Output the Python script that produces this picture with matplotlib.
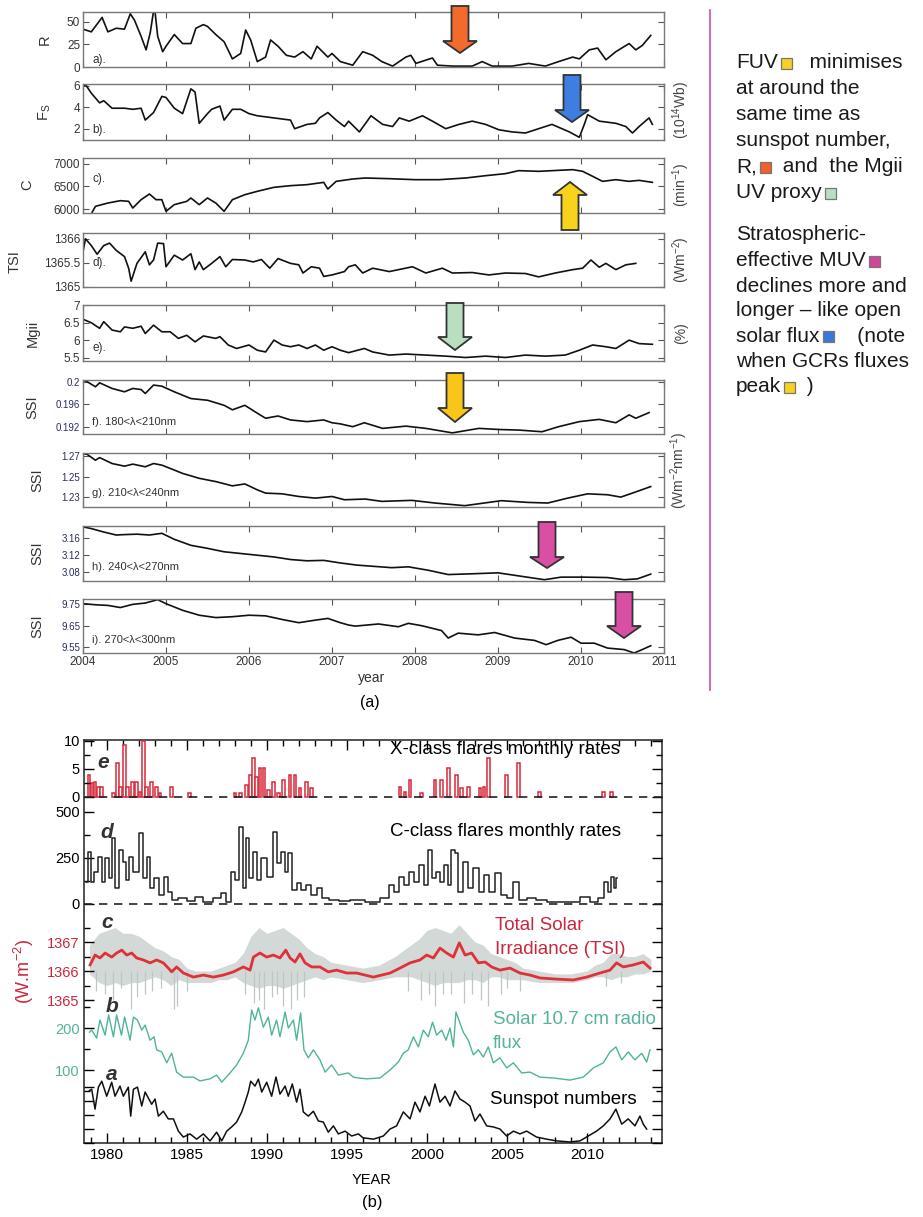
import numpy as np
import matplotlib.pyplot as plt
from matplotlib.patches import Polygon, Rectangle

plt.rcParams['font.family'] = ['Liberation Sans', 'DejaVu Sans']
plt.rcParams['mathtext.fontset'] = 'custom'
plt.rcParams['mathtext.rm'] = 'Liberation Sans'
plt.rcParams['mathtext.it'] = 'Liberation Sans:italic'

# ---------------- (a) 2004-2011 panels: (year, value)
r_data = [(2004.0, 42), (2004.1, 39), (2004.23, 55), (2004.3, 39), (2004.4, 43), (2004.5, 42), (2004.57, 59),
          (2004.62, 52), (2004.7, 34), (2004.76, 19), (2004.81, 38), (2004.86, 68), (2004.9, 34), (2004.96, 17),
          (2005.0, 23), (2005.1, 36), (2005.2, 26), (2005.3, 26), (2005.36, 43), (2005.45, 47), (2005.5, 45),
          (2005.6, 36), (2005.7, 28), (2005.8, 9), (2005.9, 15), (2005.96, 41), (2006.02, 30), (2006.1, 6),
          (2006.2, 11), (2006.26, 30), (2006.35, 23), (2006.45, 13), (2006.55, 11), (2006.65, 17), (2006.75, 9),
          (2006.82, 23), (2006.95, 11), (2007.0, 15), (2007.1, 6), (2007.25, 2), (2007.37, 17), (2007.49, 13),
          (2007.6, 6), (2007.73, 1), (2007.89, 11), (2007.95, 13), (2008.01, 4), (2008.21, 10), (2008.27, 2),
          (2008.45, 1), (2008.69, 1), (2008.81, 6), (2008.93, 1), (2009.17, 1), (2009.37, 4), (2009.57, 1),
          (2009.73, 6), (2009.9, 11), (2009.98, 9), (2010.1, 19), (2010.2, 21), (2010.3, 8), (2010.42, 17),
          (2010.58, 26), (2010.66, 19), (2010.74, 24), (2010.84, 35)]
fs_data = [(2004.0, 5.95), (2004.03, 6.1), (2004.1, 5.3), (2004.2, 4.4), (2004.25, 4.6), (2004.35, 3.9),
           (2004.5, 3.9), (2004.6, 3.8), (2004.7, 3.9), (2004.75, 2.8), (2004.85, 3.5), (2004.95, 5.0),
           (2005.0, 4.9), (2005.1, 3.9), (2005.2, 3.4), (2005.3, 5.7), (2005.35, 5.4), (2005.4, 2.5),
           (2005.5, 3.4), (2005.55, 3.8), (2005.65, 4.1), (2005.7, 2.8), (2005.8, 3.8), (2005.9, 3.8),
           (2006.0, 3.4), (2006.1, 3.2), (2006.3, 3.0), (2006.5, 2.8), (2006.55, 2.0), (2006.7, 2.4),
           (2006.8, 2.5), (2006.85, 3.0), (2006.95, 3.5), (2007.05, 2.8), (2007.15, 2.2), (2007.2, 2.7),
           (2007.33, 1.7), (2007.47, 3.2), (2007.61, 2.4), (2007.73, 2.2), (2007.81, 3.0), (2007.93, 2.7),
           (2008.09, 3.2), (2008.21, 2.7), (2008.37, 2.0), (2008.53, 2.4), (2008.69, 2.7), (2008.85, 2.4),
           (2009.01, 1.9), (2009.17, 1.7), (2009.33, 1.6), (2009.49, 2.0), (2009.65, 2.4), (2009.86, 1.7),
           (2009.98, 1.2), (2010.04, 2.4), (2010.08, 3.3), (2010.22, 2.7), (2010.42, 2.5), (2010.54, 2.2),
           (2010.62, 1.6), (2010.7, 2.2), (2010.82, 3.0), (2010.86, 2.4)]
c_data = [(2004.11, 5930), (2004.15, 6059), (2004.3, 6132), (2004.45, 6184), (2004.55, 6169), (2004.6, 6022),
          (2004.7, 6206), (2004.8, 6331), (2004.88, 6206), (2004.95, 6206), (2005.0, 5949), (2005.1, 6096),
          (2005.25, 6169), (2005.3, 6243), (2005.4, 6096), (2005.5, 6243), (2005.6, 6132), (2005.7, 5949),
          (2005.8, 6206), (2005.95, 6316), (2006.1, 6390), (2006.3, 6478), (2006.5, 6515), (2006.7, 6537),
          (2006.9, 6588), (2006.95, 6441), (2007.05, 6610), (2007.25, 6662), (2007.4, 6684), (2007.69, 6669),
          (2008.0, 6647), (2008.29, 6647), (2008.61, 6684), (2008.85, 6735), (2009.09, 6780), (2009.25, 6846),
          (2009.49, 6831), (2009.73, 6853), (2009.9, 6868), (2010.02, 6831), (2010.14, 6721), (2010.26, 6610),
          (2010.42, 6647), (2010.58, 6610), (2010.7, 6632), (2010.86, 6588)]
tsi_a_data = [(2004.0, 1365.73), (2004.03, 1366.0), (2004.1, 1365.86), (2004.17, 1365.68), (2004.25, 1365.86),
              (2004.32, 1365.91), (2004.4, 1365.76), (2004.5, 1365.63), (2004.55, 1365.39), (2004.58, 1365.12),
              (2004.65, 1365.49), (2004.75, 1365.73), (2004.8, 1365.46), (2004.85, 1365.56), (2004.9, 1365.91),
              (2004.97, 1365.9), (2005.0, 1365.42), (2005.1, 1365.66), (2005.2, 1365.56), (2005.3, 1365.69),
              (2005.35, 1365.36), (2005.4, 1365.52), (2005.45, 1365.36), (2005.55, 1365.49), (2005.65, 1365.63),
              (2005.72, 1365.42), (2005.8, 1365.57), (2005.95, 1365.56), (2006.05, 1365.52), (2006.15, 1365.57),
              (2006.25, 1365.39), (2006.35, 1365.59), (2006.5, 1365.49), (2006.6, 1365.46), (2006.65, 1365.29),
              (2006.75, 1365.42), (2006.85, 1365.39), (2006.9, 1365.22), (2007.0, 1365.25), (2007.15, 1365.32),
              (2007.2, 1365.42), (2007.28, 1365.46), (2007.37, 1365.29), (2007.49, 1365.39), (2007.69, 1365.32),
              (2007.97, 1365.42), (2008.13, 1365.29), (2008.33, 1365.39), (2008.45, 1365.29), (2008.69, 1365.3),
              (2008.89, 1365.25), (2009.09, 1365.29), (2009.33, 1365.28), (2009.49, 1365.21), (2009.69, 1365.29),
              (2009.9, 1365.36), (2010.02, 1365.39), (2010.12, 1365.56), (2010.22, 1365.41), (2010.3, 1365.49),
              (2010.42, 1365.36), (2010.54, 1365.46), (2010.66, 1365.49)]
mg_data = [(2004.0, 6.6), (2004.1, 6.5), (2004.2, 6.34), (2004.25, 6.53), (2004.35, 6.29), (2004.45, 6.24),
           (2004.5, 6.38), (2004.6, 6.34), (2004.7, 6.4), (2004.75, 6.19), (2004.85, 6.43), (2004.95, 6.24),
           (2005.05, 6.24), (2005.15, 6.05), (2005.25, 6.14), (2005.35, 5.95), (2005.45, 6.12), (2005.6, 6.05),
           (2005.65, 6.1), (2005.75, 5.86), (2005.85, 5.76), (2006.0, 5.86), (2006.1, 5.71), (2006.2, 5.66),
           (2006.3, 6.0), (2006.4, 5.86), (2006.5, 5.81), (2006.6, 5.86), (2006.7, 5.76), (2006.8, 5.86),
           (2006.9, 5.71), (2007.0, 5.81), (2007.1, 5.71), (2007.2, 5.64), (2007.39, 5.76), (2007.49, 5.66),
           (2007.69, 5.57), (2007.89, 5.6), (2008.13, 5.57), (2008.37, 5.54), (2008.61, 5.5), (2008.85, 5.54),
           (2009.09, 5.5), (2009.33, 5.57), (2009.57, 5.54), (2009.81, 5.57), (2009.98, 5.71), (2010.14, 5.86),
           (2010.3, 5.81), (2010.42, 5.76), (2010.58, 6.0), (2010.7, 5.9), (2010.86, 5.88)]
ssi_f_data = [(2004.0, 0.2003), (2004.05, 0.2), (2004.15, 0.1991), (2004.2, 0.1998), (2004.35, 0.1988),
              (2004.5, 0.1982), (2004.6, 0.1988), (2004.7, 0.1986), (2004.75, 0.1979), (2004.85, 0.1994),
              (2004.95, 0.1992), (2005.1, 0.1982), (2005.3, 0.197), (2005.5, 0.1967), (2005.7, 0.1958),
              (2005.8, 0.195), (2005.95, 0.1958), (2006.1, 0.1944), (2006.2, 0.1935), (2006.35, 0.1939),
              (2006.5, 0.1932), (2006.7, 0.1929), (2006.9, 0.1932), (2007.0, 0.1927), (2007.1, 0.1925),
              (2007.25, 0.192), (2007.39, 0.1927), (2007.61, 0.1917), (2007.89, 0.1921), (2008.13, 0.1917),
              (2008.45, 0.1909), (2008.77, 0.1917), (2009.01, 0.1915), (2009.25, 0.1914), (2009.53, 0.1911),
              (2009.73, 0.192), (2009.98, 0.1929), (2010.22, 0.1933), (2010.42, 0.1927), (2010.58, 0.1941),
              (2010.66, 0.1935), (2010.82, 0.1945)]
ssi_g_data = [(2004.0, 1.2726), (2004.05, 1.2719), (2004.15, 1.2661), (2004.2, 1.2687), (2004.35, 1.2629),
              (2004.5, 1.2603), (2004.6, 1.2623), (2004.75, 1.2597), (2004.85, 1.2629), (2004.95, 1.2613),
              (2005.1, 1.2565), (2005.2, 1.2532), (2005.4, 1.2484), (2005.6, 1.2452), (2005.8, 1.241),
              (2005.95, 1.2429), (2006.1, 1.2371), (2006.2, 1.2339), (2006.4, 1.2332), (2006.6, 1.2306),
              (2006.8, 1.229), (2007.0, 1.2306), (2007.15, 1.2274), (2007.4, 1.2281), (2007.6, 1.2258),
              (2007.96, 1.2268), (2008.24, 1.2242), (2008.6, 1.2216), (2009.04, 1.2265), (2009.36, 1.2248),
              (2009.6, 1.2242), (2009.84, 1.229), (2010.08, 1.2332), (2010.32, 1.2323), (2010.48, 1.23),
              (2010.64, 1.2345), (2010.84, 1.2403)]
ssi_h_data = [(2004.0, 3.186), (2004.1, 3.182), (2004.25, 3.174), (2004.4, 3.167), (2004.5, 3.168),
              (2004.65, 3.169), (2004.8, 3.167), (2004.95, 3.171), (2005.1, 3.157), (2005.3, 3.143),
              (2005.5, 3.136), (2005.7, 3.128), (2005.9, 3.124), (2006.1, 3.12), (2006.3, 3.116),
              (2006.5, 3.11), (2006.7, 3.107), (2006.9, 3.108), (2007.1, 3.102), (2007.3, 3.097),
              (2007.72, 3.091), (2007.92, 3.093), (2008.16, 3.085), (2008.4, 3.075), (2008.72, 3.077),
              (2009.0, 3.079), (2009.28, 3.071), (2009.56, 3.063), (2009.76, 3.069), (2010.04, 3.069),
              (2010.32, 3.068), (2010.52, 3.063), (2010.68, 3.065), (2010.84, 3.076)]
ssi_i_data = [(2004.0, 9.753), (2004.15, 9.748), (2004.3, 9.745), (2004.45, 9.735), (2004.6, 9.75),
              (2004.75, 9.756), (2004.9, 9.772), (2005.0, 9.753), (2005.2, 9.722), (2005.4, 9.699),
              (2005.6, 9.688), (2005.8, 9.692), (2006.0, 9.699), (2006.2, 9.696), (2006.4, 9.679),
              (2006.6, 9.664), (2006.8, 9.676), (2006.95, 9.684), (2007.1, 9.664), (2007.2, 9.653),
              (2007.28, 9.648), (2007.56, 9.658), (2007.8, 9.645), (2007.92, 9.661), (2008.08, 9.65),
              (2008.32, 9.627), (2008.4, 9.592), (2008.52, 9.615), (2008.76, 9.607), (2008.96, 9.618),
              (2009.2, 9.592), (2009.44, 9.581), (2009.58, 9.561), (2009.72, 9.581), (2009.88, 9.596),
              (2010.0, 9.568), (2010.16, 9.568), (2010.32, 9.545), (2010.52, 9.538), (2010.64, 9.522),
              (2010.72, 9.535), (2010.84, 9.556)]

top_years = [2004, 2005, 2006, 2007, 2008, 2009, 2010, 2011]

# ---------------- (b) 1978-2014 panel
ssn_data = [(1978.9, 150), (1979.04, 154), (1979.25, 97), (1979.46, 160), (1979.67, 177), (1979.98, 134),
            (1980.29, 174), (1980.5, 134), (1980.81, 163), (1981.02, 134), (1981.33, 160), (1981.48, 77),
            (1981.65, 154), (1981.9, 160), (1982.17, 106), (1982.38, 146), (1982.79, 111), (1983.0, 126),
            (1983.21, 77), (1983.52, 91), (1983.83, 69), (1984.15, 69), (1984.46, 34), (1984.77, 17),
            (1985.19, 26), (1985.6, 11), (1986.02, 26), (1986.44, 6), (1986.85, 31), (1987.17, 6),
            (1987.48, 34), (1987.79, 46), (1988.1, 60), (1988.42, 89), (1988.63, 117), (1988.83, 146),
            (1988.98, 177), (1989.25, 163), (1989.46, 183), (1989.67, 146), (1989.98, 174), (1990.29, 134),
            (1990.56, 189), (1990.81, 140), (1991.13, 163), (1991.33, 134), (1991.58, 169), (1991.85, 117),
            (1992.06, 154), (1992.27, 89), (1992.58, 77), (1992.9, 91), (1993.21, 63), (1993.52, 60),
            (1993.83, 31), (1994.15, 49), (1994.46, 26), (1994.88, 34), (1995.29, 20), (1995.71, 26),
            (1996.0, 15), (1996.65, 11), (1997.27, 20), (1997.69, 40), (1998.1, 49), (1998.52, 89),
            (1998.94, 69), (1999.25, 117), (1999.56, 89), (1999.88, 134), (2000.15, 106), (2000.5, 169),
            (2000.81, 117), (2001.13, 134), (2001.44, 106), (2001.75, 149), (2002.06, 126), (2002.38, 117),
            (2002.69, 106), (2003.0, 63), (2003.31, 83), (2003.73, 49), (2004.15, 46), (2004.56, 40),
            (2004.98, 20), (2005.4, 34), (2005.81, 26), (2006.23, 34), (2006.85, 17), (2007.48, 11),
            (2008.1, 6), (2008.94, 3), (2009.56, 6), (2010.08, 20), (2010.6, 34), (2011.02, 49),
            (2011.44, 69), (2011.81, 97), (2012.17, 54), (2012.58, 69), (2013.0, 49), (2013.31, 77),
            (2013.52, 54), (2013.73, 40)]
f107_data = [(1978.9, 190), (1979.04, 195), (1979.35, 176), (1979.56, 219), (1979.88, 183), (1980.1, 231),
             (1980.4, 179), (1980.6, 231), (1980.9, 183), (1981.1, 226), (1981.44, 171), (1981.65, 226),
             (1981.9, 219), (1982.17, 195), (1982.38, 207), (1982.69, 171), (1982.94, 179), (1983.1, 148),
             (1983.42, 143), (1983.73, 117), (1984.04, 140), (1984.35, 95), (1984.77, 83), (1985.4, 83),
             (1985.81, 74), (1986.44, 79), (1986.85, 88), (1987.17, 71), (1987.69, 93), (1988.1, 112),
             (1988.52, 140), (1988.83, 171), (1989.04, 243), (1989.25, 219), (1989.46, 248), (1989.77, 202),
             (1990.08, 226), (1990.29, 183), (1990.6, 219), (1990.81, 179), (1991.13, 238), (1991.33, 200),
             (1991.65, 219), (1991.85, 171), (1992.1, 236), (1992.31, 148), (1992.58, 129), (1992.9, 148),
             (1993.31, 124), (1993.63, 95), (1994.04, 112), (1994.46, 88), (1995.08, 93), (1995.4, 83),
             (1995.71, 81), (1996.23, 79), (1997.06, 81), (1997.69, 100), (1998.21, 119), (1998.52, 140),
             (1998.83, 148), (1999.15, 179), (1999.46, 155), (1999.77, 195), (2000.08, 179), (2000.35, 214),
             (2000.6, 183), (2000.92, 195), (2001.19, 171), (2001.44, 200), (2001.65, 155), (2001.81, 238),
             (2002.06, 212), (2002.27, 190), (2002.58, 171), (2002.9, 136), (2003.21, 148), (2003.52, 131),
             (2003.83, 155), (2004.15, 117), (2004.56, 129), (2004.98, 105), (2005.4, 117), (2005.92, 93),
             (2006.44, 95), (2007.06, 83), (2007.9, 81), (2008.94, 76), (2009.77, 83), (2010.4, 105),
             (2011.02, 117), (2011.44, 143), (2011.81, 155), (2012.17, 124), (2012.58, 143), (2013.0, 124),
             (2013.42, 140), (2013.73, 119), (2013.94, 148)]
tsi_red_data = [(1978.94, 1366.21), (1979.25, 1366.55), (1979.56, 1366.45), (1979.88, 1366.62), (1980.29, 1366.48),
                (1980.6, 1366.62), (1980.92, 1366.72), (1981.23, 1366.55), (1981.54, 1366.62), (1981.85, 1366.45),
                (1982.27, 1366.38), (1982.69, 1366.28), (1983.1, 1366.38), (1983.52, 1366.28), (1983.83, 1366.1),
                (1984.04, 1365.97), (1984.35, 1366.14), (1984.77, 1365.93), (1985.4, 1365.79), (1986.02, 1365.86),
                (1986.65, 1365.79), (1987.27, 1365.86), (1987.9, 1365.97), (1988.52, 1366.14), (1988.94, 1366.03),
                (1989.15, 1366.48), (1989.56, 1366.62), (1989.98, 1366.48), (1990.4, 1366.55), (1990.81, 1366.45),
                (1991.17, 1366.72), (1991.44, 1366.45), (1991.75, 1366.31), (1992.06, 1366.59), (1992.38, 1366.28),
                (1992.79, 1366.14), (1993.31, 1366.14), (1993.83, 1365.97), (1994.35, 1366.03), (1994.98, 1365.93),
                (1995.6, 1365.93), (1996.65, 1365.79), (1997.69, 1365.93), (1998.31, 1366.1), (1998.94, 1366.28),
                (1999.56, 1366.38), (1999.98, 1366.55), (2000.4, 1366.45), (2000.81, 1366.79), (2001.23, 1366.62),
                (2001.65, 1366.48), (2002.02, 1366.97), (2002.38, 1366.55), (2002.79, 1366.62), (2003.21, 1366.28),
                (2003.63, 1366.31), (2004.04, 1366.14), (2004.56, 1366.03), (2005.19, 1366.1), (2005.81, 1365.93),
                (2006.44, 1365.86), (2007.06, 1365.76), (2008.1, 1365.72), (2009.15, 1365.69), (2009.98, 1365.79),
                (2010.81, 1365.93), (2011.44, 1366.03), (2011.85, 1366.28), (2012.27, 1366.14), (2012.9, 1366.21),
                (2013.52, 1366.31), (2013.94, 1366.1)]
# daily TSI scatter: (year, low, high) envelope and deep dips
tsi_band = [(1978.9, 1365.9, 1366.9), (1979.5, 1365.6, 1367.3), (1980.0, 1365.5, 1367.4), (1980.5, 1365.6, 1367.5),
            (1981.0, 1365.5, 1367.3), (1981.5, 1365.6, 1367.3), (1982.0, 1365.6, 1367.2), (1982.5, 1365.7, 1367.0),
            (1983.0, 1365.8, 1366.8), (1983.5, 1365.7, 1366.7), (1984.0, 1365.5, 1366.5), (1984.5, 1365.7, 1366.4),
            (1985.0, 1365.6, 1366.1), (1985.5, 1365.6, 1366.0), (1986.0, 1365.6, 1366.0), (1986.5, 1365.6, 1366.0),
            (1987.0, 1365.7, 1366.1), (1987.5, 1365.7, 1366.2), (1988.0, 1365.8, 1366.3), (1988.5, 1365.6, 1366.6),
            (1989.0, 1365.5, 1367.2), (1989.5, 1365.4, 1367.5), (1990.0, 1365.5, 1367.3), (1990.5, 1365.5, 1367.4),
            (1991.0, 1365.4, 1367.5), (1991.5, 1365.5, 1367.3), (1992.0, 1365.6, 1367.1), (1992.5, 1365.7, 1366.8),
            (1993.0, 1365.8, 1366.6), (1993.5, 1365.7, 1366.5), (1994.0, 1365.8, 1366.3), (1995.0, 1365.7, 1366.2),
            (1996.0, 1365.6, 1366.1), (1997.0, 1365.7, 1366.2), (1998.0, 1365.8, 1366.5), (1998.5, 1365.8, 1366.7),
            (1999.0, 1365.8, 1366.9), (1999.5, 1365.7, 1367.1), (2000.0, 1365.6, 1367.4), (2000.5, 1365.5, 1367.5),
            (2001.0, 1365.6, 1367.4), (2001.5, 1365.6, 1367.3), (2002.0, 1365.6, 1367.6), (2002.5, 1365.7, 1367.3),
            (2003.0, 1365.7, 1367.0), (2003.5, 1365.6, 1366.9), (2004.0, 1365.8, 1366.6), (2004.5, 1365.8, 1366.5),
            (2005.0, 1365.7, 1366.4), (2005.5, 1365.7, 1366.3), (2006.0, 1365.7, 1366.1), (2007.0, 1365.6, 1366.0),
            (2008.0, 1365.6, 1365.9), (2009.0, 1365.6, 1365.9), (2010.0, 1365.7, 1366.0), (2010.5, 1365.8, 1366.2),
            (2011.0, 1365.8, 1366.3), (2011.5, 1365.7, 1366.6), (2012.0, 1365.8, 1366.6), (2012.5, 1365.8, 1366.5),
            (2013.0, 1365.9, 1366.5), (2013.5, 1365.9, 1366.6), (2014.0, 1366.0, 1366.4)]
tsi_dips = [(1979.3, 1365.3), (1979.9, 1365.2), (1980.4, 1365.0), (1980.9, 1365.4), (1981.5, 1364.7), (1981.9, 1365.1),
            (1982.4, 1365.2), (1982.8, 1365.3), (1983.4, 1365.4), (1984.2, 1364.7), (1984.4, 1364.8), (1985.0, 1365.3),
            (1988.6, 1365.2), (1989.2, 1364.9), (1989.5, 1365.0), (1989.8, 1364.7), (1990.3, 1365.1), (1990.6, 1365.2),
            (1991.0, 1364.8), (1991.5, 1364.7), (1991.9, 1365.0), (1992.3, 1365.1), (1998.8, 1365.3), (1999.6, 1365.0),
            (2000.1, 1365.2), (2000.5, 1364.8), (2001.0, 1365.2), (2001.5, 1365.2), (2002.3, 1364.9), (2002.8, 1365.2),
            (2003.4, 1365.0), (2003.8, 1364.8), (2004.6, 1365.2), (2005.0, 1365.4), (2005.8, 1365.3), (2011.2, 1365.5),
            (2012.1, 1365.6)]
cflare_data = [(1978.7, 120), (1978.9, 283), (1979.05, 120), (1979.3, 174), (1979.6, 255), (1979.8, 120),
               (1980.0, 250), (1980.2, 141), (1980.4, 359), (1980.6, 87), (1980.9, 293), (1981.1, 228),
               (1981.3, 130), (1981.5, 255), (1981.7, 174), (1981.9, 174), (1982.1, 386), (1982.4, 141),
               (1982.6, 255), (1982.8, 87), (1983.1, 141), (1983.4, 49), (1983.7, 147), (1983.9, 65),
               (1984.2, 22), (1984.7, 33), (1985.3, 16), (1985.7, 38), (1986.3, 11), (1986.9, 33),
               (1987.3, 60), (1987.6, 11), (1987.9, 174), (1988.1, 130), (1988.4, 418), (1988.6, 87),
               (1988.8, 359), (1989.0, 141), (1989.2, 283), (1989.5, 130), (1989.8, 250), (1990.2, 147),
               (1990.5, 391), (1990.8, 223), (1991.0, 283), (1991.2, 174), (1991.4, 277), (1991.7, 76),
               (1992.0, 114), (1992.3, 76), (1992.6, 103), (1992.9, 49), (1993.3, 87), (1993.6, 33),
               (1994.2, 22), (1994.8, 16), (1995.6, 22), (1996.65, 11), (1997.48, 33), (1997.79, 103),
               (1998.1, 65), (1998.4, 147), (1998.73, 103), (1999.04, 174), (1999.35, 120), (1999.67, 212),
               (1999.98, 103), (2000.19, 293), (2000.44, 141), (2000.71, 174), (2000.92, 120), (2001.23, 212),
               (2001.44, 103), (2001.6, 293), (2001.85, 277), (2002.06, 65), (2002.38, 228), (2002.69, 87),
               (2003.1, 196), (2003.42, 65), (2003.73, 158), (2004.04, 65), (2004.46, 168), (2004.77, 49),
               (2005.19, 33), (2005.6, 120), (2005.92, 22), (2006.54, 33), (2007.06, 22), (2007.9, 11),
               (2009.15, 11), (2009.98, 38), (2010.4, 11), (2010.92, 33), (2011.23, 120), (2011.44, 65),
               (2011.6, 147), (2011.75, 87), (2011.85, 141)]
xflare_data = [(1978.87, 3.9), (1979.05, 2.5), (1979.25, 2.7), (1979.46, 1.8), (1979.67, 1.8), (1980.4, 0.7),
               (1980.65, 6.0), (1980.85, 1.8), (1981.08, 9.3), (1981.29, 1.8), (1981.6, 2.7), (1981.85, 2.7),
               (1982.06, 0.9), (1982.27, 10.0), (1982.48, 1.8), (1982.79, 2.7), (1983.1, 1.8), (1983.31, 0.7),
               (1984.04, 1.8), (1985.15, 0.7), (1988.0, 0.7), (1988.35, 0.7), (1988.73, 2.1), (1988.98, 3.9),
               (1989.15, 7.0), (1989.35, 3.6), (1989.56, 5.2), (1989.81, 5.2), (1990.08, 1.2), (1990.4, 2.7),
               (1990.71, 0.7), (1991.02, 3.0), (1991.44, 3.9), (1991.75, 3.9), (1992.06, 1.6), (1992.48, 2.7),
               (1992.79, 1.6), (1998.31, 1.8), (1998.63, 0.9), (1998.94, 3.0), (1999.67, 0.7), (2000.5, 3.0),
               (2000.92, 3.0), (2001.33, 5.2), (2001.85, 3.9), (2002.17, 1.6), (2002.58, 1.8), (2003.31, 1.6),
               (2003.56, 1.8), (2003.83, 7.0), (2004.98, 3.9), (2005.71, 6.0), (2007.02, 0.9), (2011.02, 0.9),
               (2011.54, 0.9)]

W, H = 923, 1217
fig = plt.figure(figsize=(W / 100, H / 100), dpi=100)


def rect(l, t, r, b):
    # pixel box -> figure fraction
    return [l / W, 1 - b / H, (r - l) / W, (b - t) / H]


def ftext(x, y, s, **kw):
    return fig.text(x / W, 1 - y / H, s, **kw)


def block_arrow(cx, y0, yh, y1, color):
    bw, hw = 8.5, 17
    pts = [(cx - bw, y0), (cx + bw, y0), (cx + bw, yh), (cx + hw, yh),
           (cx, y1), (cx - hw, yh), (cx - bw, yh)]
    fig.add_artist(Polygon([(x / W, 1 - y / H) for x, y in pts], closed=True,
                           transform=fig.transFigure, fc=color, ec='#333333', lw=1.3))


# ---------- (a)
rows = [(12, 67), (84, 140), (158, 213), (233, 287), (305, 361), (380, 434), (453, 507), (526, 581), (599, 653)]
panels = [
    (r_data, (0, 61), [0, 25, 50], ['0', '25', '50'], 'a).', 0.13),
    (fs_data, (0.95, 6.15), [2, 4, 6], ['2', '4', '6'], 'b).', 0.17),
    (c_data, (5912, 7125), [6000, 6500, 7000], ['6000', '6500', '7000'], 'c).', 0.62),
    (tsi_a_data, (1365.0, 1366.12), [1365, 1365.5, 1366], ['1365', '1365.5', '1366'], 'd).', 0.44),
    (mg_data, (5.40, 7.01), [5.5, 6, 6.5, 7], ['5.5', '6', '6.5', '7'], 'e).', 0.23),
    (ssi_f_data, (0.1907, 0.2003), [0.192, 0.196, 0.2], ['0.192', '0.196', '0.2'], 'f). 180<λ<210nm', 0.22),
    (ssi_g_data, (1.2203, 1.2732), [1.23, 1.25, 1.27], ['1.23', '1.25', '1.27'], 'g). 210<λ<240nm', 0.26),
    (ssi_h_data, (3.060, 3.188), [3.08, 3.12, 3.16], ['3.08', '3.12', '3.16'], 'h). 240<λ<270nm', 0.25),
    (ssi_i_data, (9.522, 9.775), [9.55, 9.65, 9.75], ['9.55', '9.65', '9.75'], 'i). 270<λ<300nm', 0.24),
]
ylabels = [('R', 45, 40), (r'F$_{\mathrm{S}}$', 45, 112), ('C', 27, 185), ('TSI', 15, 262), ('Mgii', 33, 333),
           ('SSI', 32, 407), ('SSI', 37, 480), ('SSI', 37, 553), ('SSI', 37, 626)]

for k, ((t, b), (data, ylim, yt, ytl, tag, tagy)) in enumerate(zip(rows, panels)):
    ax = fig.add_axes(rect(83, t, 664, b))
    xs, ys = np.array(data).T
    ax.plot(xs, ys, color='#111111', lw=1.2)
    ax.set_xlim(2004, 2011)
    ax.set_ylim(*ylim)
    ax.set_xticks(top_years)
    ax.set_yticks(yt)
    small = k >= 5
    ax.set_yticklabels(ytl, fontsize=7 if small else 8.5, color='#2b2b66' if small else '#333333')
    ax.tick_params(direction='in', top=True, right=True, length=4, width=0.8, color='#555555', pad=2)
    if k == 8:
        ax.set_xticklabels([str(y) for y in top_years], fontsize=8.5, color='#333333')
    else:
        ax.set_xticklabels([])
    for s in ax.spines.values():
        s.set_color('#777777')
        s.set_linewidth(1.0)
    ax.text(0.016, tagy, tag, transform=ax.transAxes, fontsize=8 if small else 8.5,
            color='#333333', ha='left', va='center')
    lab, lx, ly = ylabels[k]
    ftext(lx, ly, lab, rotation=90, fontsize=10.5, color='#333333', ha='center', va='center')

for s, x, y in [(r'(10$^{14}$Wb)', 681, 110), (r'(min$^{-1}$)', 681, 185), (r'(Wm$^{-2}$)', 681, 260),
                ('(%)', 681, 333), (r'(Wm$^{-2}$nm$^{-1}$)', 679, 470)]:
    ftext(x, y, s, rotation=90, fontsize=10, color='#444444', ha='center', va='center')

ftext(372, 678, 'year', fontsize=10, color='#333333', ha='center', va='center')
ftext(370, 703, '(a)', fontsize=11.5, ha='center', va='center')

block_arrow(460, 6, 41, 53, '#f26a2c')
block_arrow(572, 75, 110, 122, '#3d7ee0')
block_arrow(570, 230, 195, 182, '#f8d31c')
block_arrow(455, 303, 337, 350, '#b9dfc0')
block_arrow(455, 373, 408, 422, '#f9c518')
block_arrow(547, 522, 557, 568, '#d94fa3')
block_arrow(624, 592, 626, 638, '#d94fa3')

# magenta separator and notes
fig.add_artist(plt.Line2D([710 / W, 710 / W], [1 - 10 / H, 1 - 690 / H], color='#d65aae', lw=1.3,
                          transform=fig.transFigure))

fig.canvas.draw()
renderer = fig.canvas.get_renderer()


def note_line(y, parts, x=736):
    for p in parts:
        if p.startswith('#'):
            fig.add_artist(Rectangle(((x + 3) / W, 1 - (y + 6) / H), 11 / W, 11 / H, fc=p, ec='#777777',
                                     lw=0.9, transform=fig.transFigure))
            x += 20
        else:
            t = ftext(x, y, p, fontsize=15, ha='left', va='center', color='#1a1a1a')
            x += t.get_window_extent(renderer).width


note_line(63, ['FUV', '#f8d020', '  minimises'])
note_line(89, ['at around the'])
note_line(115, ['same time as'])
note_line(141, ['sunspot number,'])
note_line(167, ['R,', '#f0602a', ' and  the Mgii'])
note_line(193, ['UV proxy', '#b9dfc2'])
note_line(235, ['Stratospheric-'])
note_line(261, ['effective MUV', '#d5449b'])
note_line(286, ['declines more and'])
note_line(311, ['longer – like open'])
note_line(336, ['solar flux', '#3a78d8', '   (note'])
note_line(361, ['when GCRs fluxes'])
note_line(387, ['peak', '#f8d020', ' )'])

# ---------- (b)
BL, BT, BR, BB = 84, 740, 662, 1143
xlo, xhi = 1978.56, 2014.69
fb = fig.add_axes(rect(BL, BT, BR, BB))
fb.set_xlim(xlo, xhi)
fb.set_yticks([])
fb.set_xticks([1980, 1985, 1990, 1995, 2000, 2005, 2010])
fb.set_xticks(np.arange(1979, 2015), minor=True)
fb.tick_params(axis='x', which='both', direction='in', top=True, bottom=True, labelsize=11, width=1.0)
fb.tick_params(axis='x', which='major', length=7)
fb.tick_params(axis='x', which='minor', length=4)
for s in fb.spines.values():
    s.set_linewidth(1.2)
    s.set_color('#333333')


def overlay(v1, p1, v2, p2, major, labels, minor, color):
    ax = fig.add_axes(rect(BL, BT, BR, BB))
    ax.patch.set_visible(False)
    for s in ax.spines.values():
        s.set_visible(False)
    ax.set_xlim(xlo, xhi)
    ax.set_xticks([])
    sc = (v2 - v1) / (p1 - p2)
    ax.set_ylim(v1 - (BB - p1) * sc, v1 + (p1 - BT) * sc)
    ax.set_yticks(major)
    ax.set_yticklabels(labels, fontsize=10.5, color=color)
    ax.set_yticks(minor, minor=True)
    ax.tick_params(axis='y', which='both', direction='in', left=True, right=True, width=1.0, pad=3)
    ax.tick_params(axis='y', which='major', length=7)
    ax.tick_params(axis='y', which='minor', length=4)
    return ax


red, teal = '#c8283e', '#55b39c'

ax_e = overlay(0, 797, 10, 741, [0, 5, 10], ['0', '5', '10'], [2.5, 7.5], 'k')
ax_e.axhline(0, color='#222222', lw=1.2, ls=(0, (5, 4)))
xx, xv = np.array(xflare_data).T
ax_e.bar(xx, xv, width=0.16, facecolor='white', edgecolor='#d8283a', lw=1.1)

ax_d = overlay(0, 904, 500, 812, [0, 250, 500], ['0', '250', '500'], [125, 375], 'k')
ax_d.axhline(0, color='#222222', lw=1.2, ls=(0, (5, 4)))
cx_, cv = np.array(cflare_data).T
ax_d.step(cx_, cv, where='mid', color='#222222', lw=1.1)

ax_c = overlay(1366, 971, 1367, 942, [1365, 1366, 1367], ['1365', '1366', '1367'], [1365.5, 1366.5, 1367.5], red)
by, blo, bhi = np.array(tsi_band).T
ax_c.fill_between(by, blo, bhi, color='#d3d9d6', lw=0)
dy, dv = np.array(tsi_dips).T
ax_c.vlines(dy, dv, 1366.0, color='#bfc7c4', lw=0.9)
ty, tv = np.array(tsi_red_data).T
ax_c.plot(ty, tv, color='#e0303a', lw=2.0)

ax_b = overlay(100, 1070, 200, 1028, [100, 200], ['100', '200'], [50, 150, 250], teal)
fy_, fv = np.array(f107_data).T
ax_b.plot(fy_, fv, color='#4fb39a', lw=1.0)

ax_a = overlay(0, 1144, 100, 1109, [0, 40, 80, 120, 160], ['', '', '', '', ''], [], 'k')
sy, sv = np.array(ssn_data).T
ax_a.plot(sy, sv, color='#111111', lw=1.1)

for s, x, y in [('e', 103, 762), ('d', 107, 833), ('c', 107, 922), ('b', 112, 1007), ('a', 112, 1075)]:
    ftext(x, y, s, fontsize=15, fontweight='bold', fontstyle='italic', color='#333333', ha='center', va='center')

ftext(505, 750, 'X-class flares monthly rates', fontsize=13.5, ha='center', va='center')
ftext(505, 832, 'C-class flares monthly rates', fontsize=13.5, ha='center', va='center')
ftext(495, 925, 'Total Solar', fontsize=13.5, color=red, ha='left', va='center')
ftext(495, 949, 'Irradiance (TSI)', fontsize=13.5, color=red, ha='left', va='center')
ftext(493, 1019, 'Solar 10.7 cm radio', fontsize=13.5, color=teal, ha='left', va='center')
ftext(493, 1044, 'flux', fontsize=13.5, color=teal, ha='left', va='center')
ftext(490, 1099, 'Sunspot numbers', fontsize=13.5, ha='left', va='center')
ftext(24, 972, r'(W.m$^{-2}$)', rotation=90, fontsize=13, color=red, ha='center', va='center')
ftext(372, 1180, 'YEAR', fontsize=10.5, ha='center', va='center')
ftext(372, 1203, '(b)', fontsize=12, ha='center', va='center')

fig.savefig('out.png', dpi=100)
